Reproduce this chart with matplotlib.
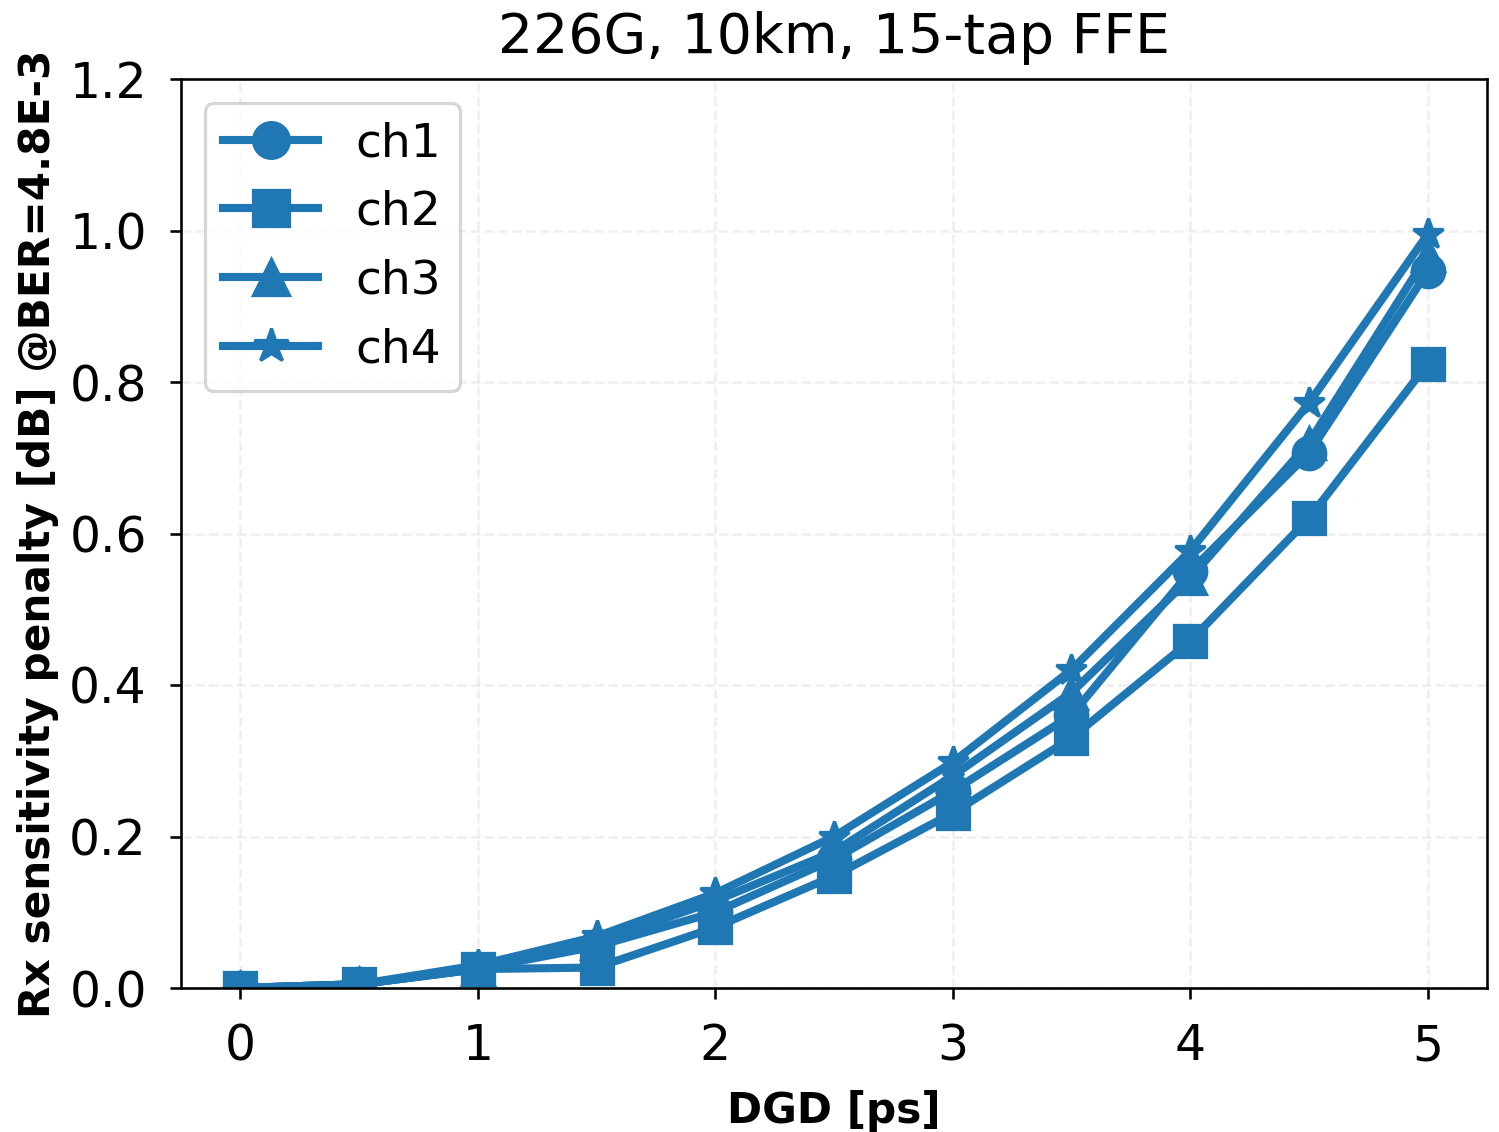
import numpy as np
import matplotlib
matplotlib.use("Agg")
import matplotlib.pyplot as plt

dgd = [0, 0.5, 1, 1.5, 2, 2.5, 3, 3.5, 4, 4.5, 5]
ch1 = [0, 0.005, 0.025, 0.055, 0.10, 0.17, 0.26, 0.36, 0.55, 0.706, 0.946]
ch2 = [0, 0.005, 0.025, 0.027, 0.08, 0.148, 0.231, 0.33, 0.458, 0.62, 0.824]
ch3 = [0, 0.005, 0.025, 0.06, 0.115, 0.18, 0.28, 0.39, 0.541, 0.72, 0.968]
ch4 = [0, 0.005, 0.03, 0.068, 0.125, 0.20, 0.298, 0.42, 0.577, 0.772, 0.995]

labels = ["ch1", "ch2", "ch3", "ch4"]
markers = ["o", "s", "^", "*"]

dpi = 234
fig = plt.figure(figsize=(1499 / dpi, 1132 / dpi), dpi=dpi)
ax = fig.add_axes([181 / 1499, 1 - 988 / 1132, (1487 - 181) / 1499, (988 - 79) / 1132])

for y, lab, m in zip([ch1, ch2, ch3, ch4], labels, markers):
    ax.plot(dgd, y, marker=m, color="#1f77b4", lw=2.5, ms=10, label=lab)

ax.set_ylim(0, 1.2)
ax.set_xlim(-0.25, 5.25)
ax.set_xticks([0, 1, 2, 3, 4, 5])
ax.set_yticks([0, 0.2, 0.4, 0.6, 0.8, 1.0, 1.2])
ax.grid(True, ls="--", alpha=0.2)
ax.tick_params(labelsize=15, pad=7)
ax.set_title("226G, 10km, 15-tap FFE", fontsize=17, pad=8)
ax.set_xlabel("DGD [ps]", fontsize=13, fontweight="bold", labelpad=6)
ax.set_ylabel("Rx sensitivity penalty [dB] @BER=4.8E-3", fontsize=13, fontweight="bold", labelpad=3)
ax.legend(loc="upper left", fontsize=14.5, markerscale=1.1)

fig.savefig("out.png", dpi=dpi)
